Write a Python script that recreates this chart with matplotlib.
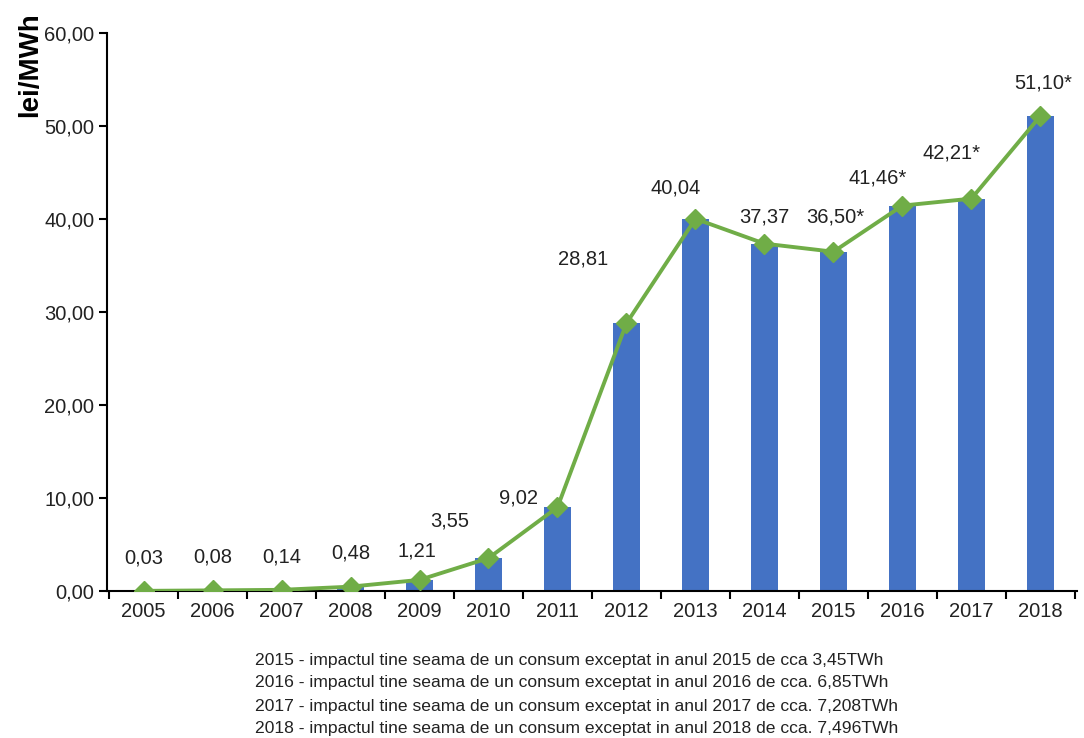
import matplotlib.pyplot as plt
import numpy as np

# %% Data
years = ["2005", "2006", "2007", "2008", "2009", "2010", "2011",
         "2012", "2013", "2014", "2015", "2016", "2017", "2018"]
values = [0.03, 0.08, 0.14, 0.48, 1.21, 3.55, 9.02,
          28.81, 40.04, 37.37, 36.50, 41.46, 42.21, 51.10]
labels = ["0,03", "0,08", "0,14", "0,48", "1,21", "3,55", "9,02",
          "28,81", "40,04", "37,37", "36,50*", "41,46*", "42,21*", "51,10*"]
notes = [
    "2015 - impactul tine seama de un consum exceptat in anul 2015 de cca 3,45TWh",
    "2016 - impactul tine seama de un consum exceptat in anul 2016 de cca. 6,85TWh",
    "2017 - impactul tine seama de un consum exceptat in anul 2017 de cca. 7,208TWh",
    "2018 - impactul tine seama de un consum exceptat in anul 2018 de cca. 7,496TWh",
]

# label offsets in points (dx, dy) relative to each point
offsets = [(0, 24), (0, 24), (0, 24), (0, 24), (-2, 21), (-28, 27), (-28, 7),
           (-31, 46), (-14, 22), (0, 19), (1, 25), (-18, 20), (-14, 33), (2, 24)]

plt.rcParams["font.family"] = ["Liberation Sans", "DejaVu Sans"]

fig = plt.figure(figsize=(10.84, 7.38), dpi=100)
ax = fig.add_axes([0.0987, 0.199, 0.8948, 0.756])

x = np.arange(len(years))
ax.bar(x, values, width=0.4, color="#4472C4", zorder=2)
ax.plot(x, values, color="#70AD47", lw=2.8, marker="D", ms=10,
        markerfacecolor="#70AD47", markeredgecolor="#70AD47", zorder=3)

for xi, v, lab, (dx, dy) in zip(x, values, labels, offsets):
    ax.annotate(lab, (xi, v), xytext=(dx, dy), textcoords="offset points",
                ha="center", va="center", fontsize=14.5, color="#222222")

ax.set_xlim(-0.53, len(years) - 0.47)
ax.set_ylim(0, 60)
ax.set_yticks(np.arange(0, 61, 10))
ax.set_yticklabels([f"{t:.2f}".replace(".", ",") for t in np.arange(0, 61, 10)],
                   fontsize=14.5, color="#222222")
ax.set_xticks(x)
ax.set_xticklabels(years, fontsize=14.5, color="#222222")
ax.tick_params(axis="x", length=0, pad=8)
ax.set_xticks(np.arange(-0.5, len(years), 1), minor=True)
ax.tick_params(axis="x", which="minor", length=6, width=1.5, color="black")
ax.tick_params(axis="y", length=6, width=1.5, pad=3)

for s in ["top", "right"]:
    ax.spines[s].set_visible(False)
ax.spines["left"].set_linewidth(1.5)
ax.spines["bottom"].set_linewidth(1.5)

fig.text(0.028, 0.912, "lei/MWh", rotation=90, fontsize=20, fontweight="bold",
         ha="center", va="center")

for i, n in enumerate(notes):
    fig.text(0.235, 1 - (660 + 23 * i) / 738, n, fontsize=12.6, color="#222222",
             family=["Liberation Sans Narrow", "Liberation Sans", "DejaVu Sans"],
             stretch="condensed", ha="left", va="center")

fig.savefig("out.png", dpi=100)
